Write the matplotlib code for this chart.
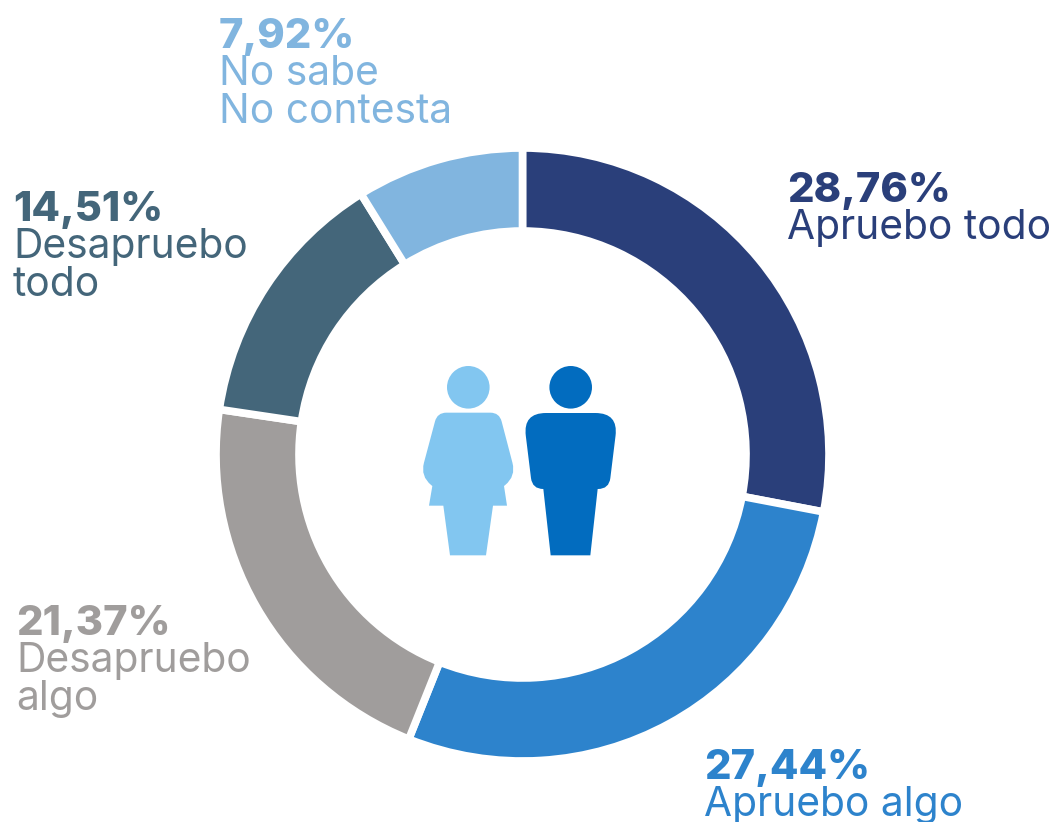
# -*- coding: utf-8 -*-
import matplotlib
matplotlib.use("Agg")
import matplotlib.pyplot as plt
import numpy as np
from matplotlib.path import Path
from matplotlib.patches import PathPatch, Circle

W, H = 1061, 822

categories = ["Apruebo todo", "Apruebo algo", "Desapruebo algo", "Desapruebo todo", "No sabe No contesta"]
# printed percentages
pct_labels = ["28,76%", "27,44%", "21,37%", "14,51%", "7,92%"]
# share of the ring each arc takes as drawn (the arcs do not quite follow the printed numbers)
arc_shares = [28.0, 28.05, 21.3, 13.82, 8.83]
colors = ["#2A3F7A", "#2D83CC", "#A09D9C", "#44667A", "#81B5DF"]
text_colors = ["#2A3F7A", "#2D83CC", "#A09D9C", "#44667A", "#81B5DF"]
name_lines = [["Apruebo todo"], ["Apruebo algo"], ["Desapruebo", "algo"], ["Desapruebo", "todo"], ["No sabe", "No contesta"]]
# left edge, baseline of the percentage (pixels from top)
label_pos = [(787, 202), (704, 779), (16, 635), (13, 221), (219, 48)]

plt.rcParams['font.family'] = ['Inter', 'DejaVu Sans']


def py(y):
    return H - y


def rounded(points, radii):
    # closed polygon with rounded corners, points are given in image pixels
    verts = []
    codes = []
    n = len(points)
    for i in range(n):
        p = np.array(points[i], dtype=float)
        prev = np.array(points[i - 1], dtype=float)
        nxt = np.array(points[(i + 1) % n], dtype=float)
        r = radii[i]
        a = p + (prev - p) / np.linalg.norm(prev - p) * r
        b = p + (nxt - p) / np.linalg.norm(nxt - p) * r
        verts.append((a[0], py(a[1])))
        codes.append(Path.MOVETO if i == 0 else Path.LINETO)
        if r > 0:
            verts.append((p[0], py(p[1])))
            codes.append(Path.CURVE3)
            verts.append((b[0], py(b[1])))
            codes.append(Path.CURVE3)
    verts.append(verts[0])
    codes.append(Path.CLOSEPOLY)
    return Path(verts, codes)


def zoomed(pts):
    return [(410 + x / 3, 355 + y / 3) for x, y in pts]


fig = plt.figure(figsize=(W / 100, H / 100), dpi=100)
ax = fig.add_axes([0, 0, 1, 1])
ax.set_xlim(0, W)
ax.set_ylim(0, H)
ax.axis("off")

ax.pie(arc_shares, colors=colors, startangle=90, counterclock=False, center=(522.5, py(454.5)), radius=306.5,
       wedgeprops=dict(width=83, edgecolor="white", linewidth=5.5), frame=True)
ax.set_xlim(0, W)
ax.set_ylim(0, H)
ax.set_aspect("equal")
ax.axis("off")

# woman icon
ax.add_patch(Circle((468.3, py(387.3)), 21.3, fc="#82C6F0", ec="none"))
woman = zoomed([(82, 173), (268, 173), (318, 364), (282, 393), (291, 452), (249, 452), (228, 601), (120, 601),
                (100, 452), (57, 452), (67, 393), (31, 364)])
ax.add_patch(PathPatch(rounded(woman, [9, 9, 14, 0, 0, 0, 0, 0, 0, 0, 0, 14]), fc="#82C6F0", ec="none"))

# man icon
ax.add_patch(Circle((570.7, py(387.3)), 21.3, fc="#026CBF", ec="none"))
man = zoomed([(339, 174), (625, 174), (597, 402), (563, 402), (541, 601), (422, 601), (400, 402), (367, 402)])
ax.add_patch(PathPatch(rounded(man, [23, 23, 11, 0, 0, 0, 0, 11]), fc="#026CBF", ec="none"))

for i in range(len(categories)):
    x, y = label_pos[i]
    ax.text(x, py(y), pct_labels[i], color=text_colors[i], fontsize=30, fontweight=800, ha="left", va="baseline")
    for j, line in enumerate(name_lines[i]):
        ax.text(x, py(y + 37 + j * 38), line, color=text_colors[i], fontsize=29.3, fontweight="normal",
                ha="left", va="baseline")

fig.savefig("out.png", dpi=100)
